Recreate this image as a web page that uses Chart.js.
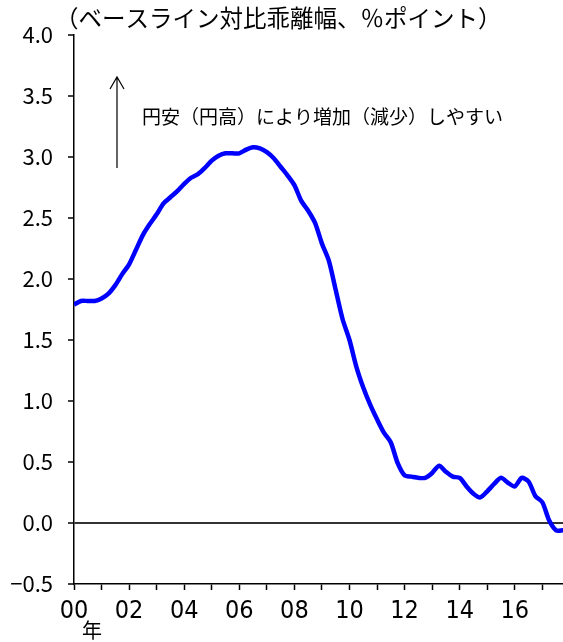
<!DOCTYPE html>
<html>
<head>
<meta charset="utf-8">
<script src="https://cdn.jsdelivr.net/npm/chart.js@4"></script>
<style>
  html, body { margin: 0; padding: 0; background: #fff; }
  #wrap { width: 563px; height: 642px; position: relative; }
</style>
</head>
<body>
<div id="wrap"><canvas id="c" width="563" height="642"></canvas></div>
<script>
// Quarterly observations, 2000Q1 - 2017Q4
const quarters = [];
for (let y = 2000; y <= 2017; y++) for (let q = 1; q <= 4; q++) quarters.push(y + 'Q' + q);

// Deviation from baseline (% points)
const deviation = [
  1.79, 1.82, 1.82, 1.82, 1.84, 1.88, 1.95, 2.04,
  2.12, 2.24, 2.36, 2.45, 2.53, 2.62, 2.67, 2.72,
  2.78, 2.83, 2.86, 2.91, 2.97, 3.01, 3.03, 3.03,
  3.03, 3.06, 3.08, 3.07, 3.04, 2.99, 2.92, 2.85,
  2.77, 2.64, 2.56, 2.46, 2.29, 2.15, 1.91, 1.67,
  1.50, 1.28, 1.11, 0.97, 0.85, 0.74, 0.66, 0.49,
  0.39, 0.38, 0.37, 0.37, 0.41, 0.47, 0.42, 0.38,
  0.37, 0.30, 0.24, 0.21, 0.26, 0.32, 0.37, 0.33,
  0.30, 0.37, 0.34, 0.22, 0.17, 0.02, -0.06, -0.06
];

// Year ticks on the horizontal axis; only even years carry a label
const tickYears = [2000, 2001, 2002, 2003, 2004, 2005, 2006, 2007, 2008,
                   2009, 2010, 2011, 2012, 2013, 2014, 2015, 2016, 2017];
const labelYears = [2000, 2002, 2004, 2006, 2008, 2010, 2012, 2014, 2016];

const unitLabel = '（ベースライン対比乖離幅、％ポイント）';
const noteLabel = '円安（円高）により増加（減少）しやすい';
const yearLabel = '年';

const points = quarters.map((q, i) => {
  const [yr, qq] = q.split('Q').map(Number);
  return { x: yr + (qq - 1) / 4, y: deviation[i] };
});

const JP = '"Noto Sans CJK JP", "Noto Sans", sans-serif';
const NUM = '"Liberation Sans Narrow", "DejaVu Sans Condensed", sans-serif';

const decorations = {
  id: 'decorations',
  afterDraw(chart) {
    const ctx = chart.ctx;
    ctx.save();
    ctx.fillStyle = '#000';
    ctx.textBaseline = 'middle';
    // unit caption
    ctx.font = '23.5px ' + JP;
    ctx.textAlign = 'left';
    ctx.fillText(unitLabel, 55, 18);
    // note text
    ctx.font = '19px ' + JP;
    ctx.fillText(noteLabel, 142, 117);
    // year marker under the first label
    ctx.font = '20px ' + JP;
    ctx.textAlign = 'center';
    ctx.fillText(yearLabel, 92, 630);
    // upward arrow
    ctx.strokeStyle = '#000';
    ctx.lineWidth = 1.2;
    ctx.beginPath();
    ctx.moveTo(117, 168);
    ctx.lineTo(117, 77);
    ctx.moveTo(110, 89);
    ctx.lineTo(117, 77);
    ctx.lineTo(124, 89);
    ctx.stroke();
    ctx.restore();
  }
};

new Chart(document.getElementById('c'), {
  type: 'line',
  data: {
    datasets: [{
      data: points,
      borderColor: '#0000ff',
      borderWidth: 4.5,
      pointRadius: 0,
      tension: 0.25,
      fill: false
    }]
  },
  options: {
    responsive: false,
    animation: false,
    layout: { padding: { top: 35, right: 0, bottom: 0, left: 0 } },
    plugins: { legend: { display: false }, tooltip: { enabled: false } },
    scales: {
      x: {
        type: 'linear',
        min: 2000,
        max: 2017.75,
        afterBuildTicks: s => { s.ticks = tickYears.map(v => ({ value: v })); },
        afterFit: s => { s.height = 58; },
        border: { display: true, color: '#000', width: 1.5 },
        grid: { drawOnChartArea: false, tickLength: 6, tickColor: '#000', tickWidth: 1.5 },
        ticks: {
          autoSkip: false,
          maxRotation: 0,
          padding: 6,
          color: '#000',
          font: { family: NUM, size: 25 },
          callback: v => labelYears.includes(v) ? String(v % 100).padStart(2, '0') : ''
        }
      },
      y: {
        min: -0.5,
        max: 4.0,
        afterFit: s => { s.width = 74; },
        border: { display: true, color: '#000', width: 1.5 },
        grid: {
          drawOnChartArea: true,
          color: c => (c.tick && c.tick.value === 0) ? '#333333' : 'rgba(0,0,0,0)',
          lineWidth: 2,
          tickLength: 6,
          tickColor: '#000',
          tickWidth: 1.5
        },
        ticks: {
          stepSize: 0.5,
          padding: 15,
          color: '#000',
          font: { family: JP, size: 22 },
          callback: v => (v < 0 ? '−' : '') + Math.abs(v).toFixed(1)
        }
      }
    }
  },
  plugins: [decorations]
});
</script>
</body>
</html>
